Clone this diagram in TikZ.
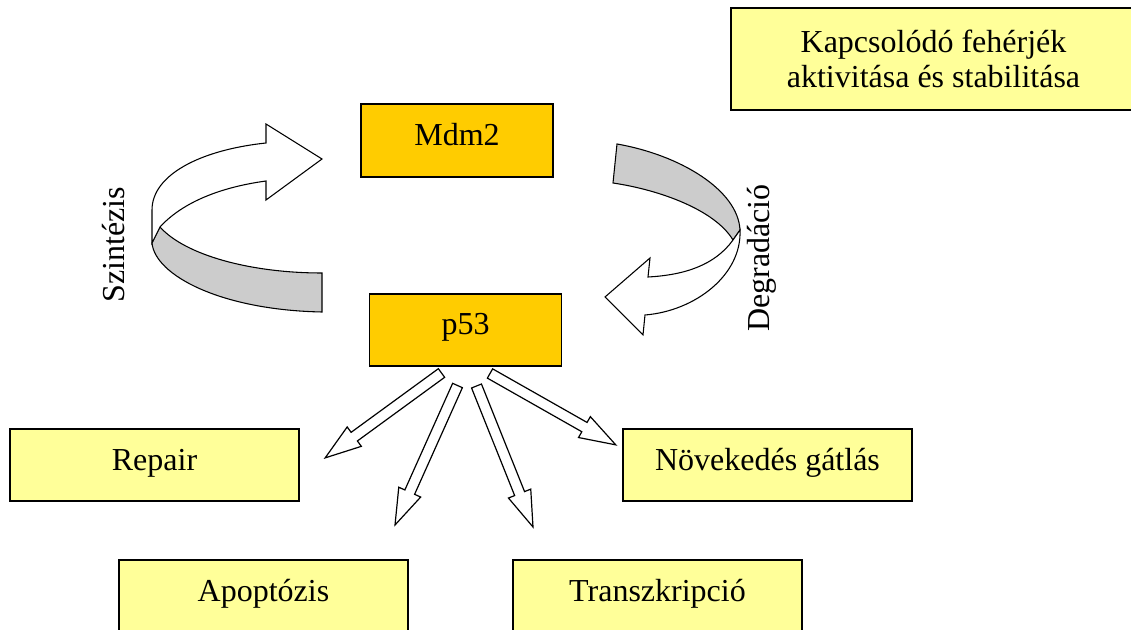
\documentclass[tikz,border=0pt]{standalone}
\usepackage{fontspec}
\setmainfont{Liberation Serif}
\usetikzlibrary{calc}
\definecolor{orangebox}{HTML}{FFCC00}
\definecolor{yellowbox}{HTML}{FFFF99}
\definecolor{ribbongrey}{HTML}{CCCCCC}
\newcommand\blockarrow[2]{%
  \draw[barrow] let \p1=($(#2)-(#1)$), \n1={atan2(\y1,\x1)}, \n2={veclen(\x1,\y1)} in
    [shift={(#1)}, rotate=\n1]
    (0pt,4pt) -- ({\n2-27pt},4pt) -- ({\n2-27pt},9pt) -- ({\n2+0pt},0pt)
    -- ({\n2-27pt},-9pt) -- ({\n2-27pt},-4pt) -- (0pt,-4pt) -- cycle;
}
\begin{document}
\begin{tikzpicture}[x=0.75pt,y=-0.75pt,
  box/.style={draw=black, line width=1.3pt, inner sep=0pt,
    font=\fontsize{24}{28}\selectfont, text height=7.5pt, text depth=0pt},
  obox/.style={box, fill=orangebox, minimum width=144pt, minimum height=54.5pt},
  ybox/.style={box, fill=yellowbox, minimum width=216.75pt, minimum height=54pt},
  kbox/.style={draw=black, line width=1.3pt, inner sep=0pt, fill=yellowbox,
    font=\fontsize{24}{26.25}\selectfont, align=center,
    minimum width=303.75pt, minimum height=76.5pt},
  ribbon/.style={draw=black, line width=0.8pt, line join=miter},
  barrow/.style={draw=black, fill=white, line width=0.9pt, line join=miter},
  lbl/.style={font=\fontsize{24}{28}\selectfont, inner sep=0pt}]
\useasboundingbox (0,0) rectangle (1131,630);
\clip (0,0) rectangle (1131,630);
\fill[white] (0,0) rectangle (1131,630);

% boxes
\node[kbox] (kap) at (933.5,59) {Kapcsolódó fehérjék\\aktivitása és stabilitása};
\node[obox] (mdm) at (457,140.5) {Mdm2};
\node[obox] (p53) at (465.5,330) {p53};
\node[ybox] (rep) at (154.5,465) {Repair};
\node[ybox] (nov) at (767.5,465) {Növekedés gátlás};
\node[ybox] (apo) at (263.5,596) {Apoptózis};
\node[ybox] (tra) at (657.5,596) {Transzkripció};

% left curved ribbon arrow (Szintézis)
\filldraw[ribbon, fill=ribbongrey] (160,227) .. controls (185,255) and (250,273) .. (322,273)
  -- (322,312) .. controls (220,310) and (155,275) .. (152,243) -- cycle;
\filldraw[ribbon, fill=white] (266,143) .. controls (200,150) and (152,175) .. (152,210)
  -- (152,243) -- (160,227) .. controls (180,205) and (215,188) .. (266,181)
  -- (266,200) -- (322,159) -- (266,124) -- cycle;
\node[lbl, rotate=90] (szi) at (114,245) {Szintézis};

% right curved ribbon arrow (Degradáció)
\filldraw[ribbon, fill=ribbongrey] (617,144) .. controls (680,155) and (738,190) .. (740,230)
  -- (733,240) .. controls (715,210) and (660,190) .. (613,183) -- cycle;
\filldraw[ribbon, fill=white] (733,240) .. controls (715,265) and (685,275) .. (648,277)
  -- (650,258) -- (605,297) -- (643,335) -- (645,315)
  .. controls (695,311) and (742,275) .. (740,230) -- cycle;
\node[lbl, rotate=90] (deg) at (762,258) {Degradáció};

% block arrows from p53
\coordinate (t1) at (441.5,373);  \coordinate (h1) at (325,458);
\coordinate (t2) at (457.5,385.5); \coordinate (h2) at (395,525);
\coordinate (t3) at (476.5,386);  \coordinate (h3) at (533,527);
\coordinate (t4) at (490,373.5);  \coordinate (h4) at (616,445);
\blockarrow{t1}{h1}
\blockarrow{t2}{h2}
\blockarrow{t3}{h3}
\blockarrow{t4}{h4}
\end{tikzpicture}
\end{document}
